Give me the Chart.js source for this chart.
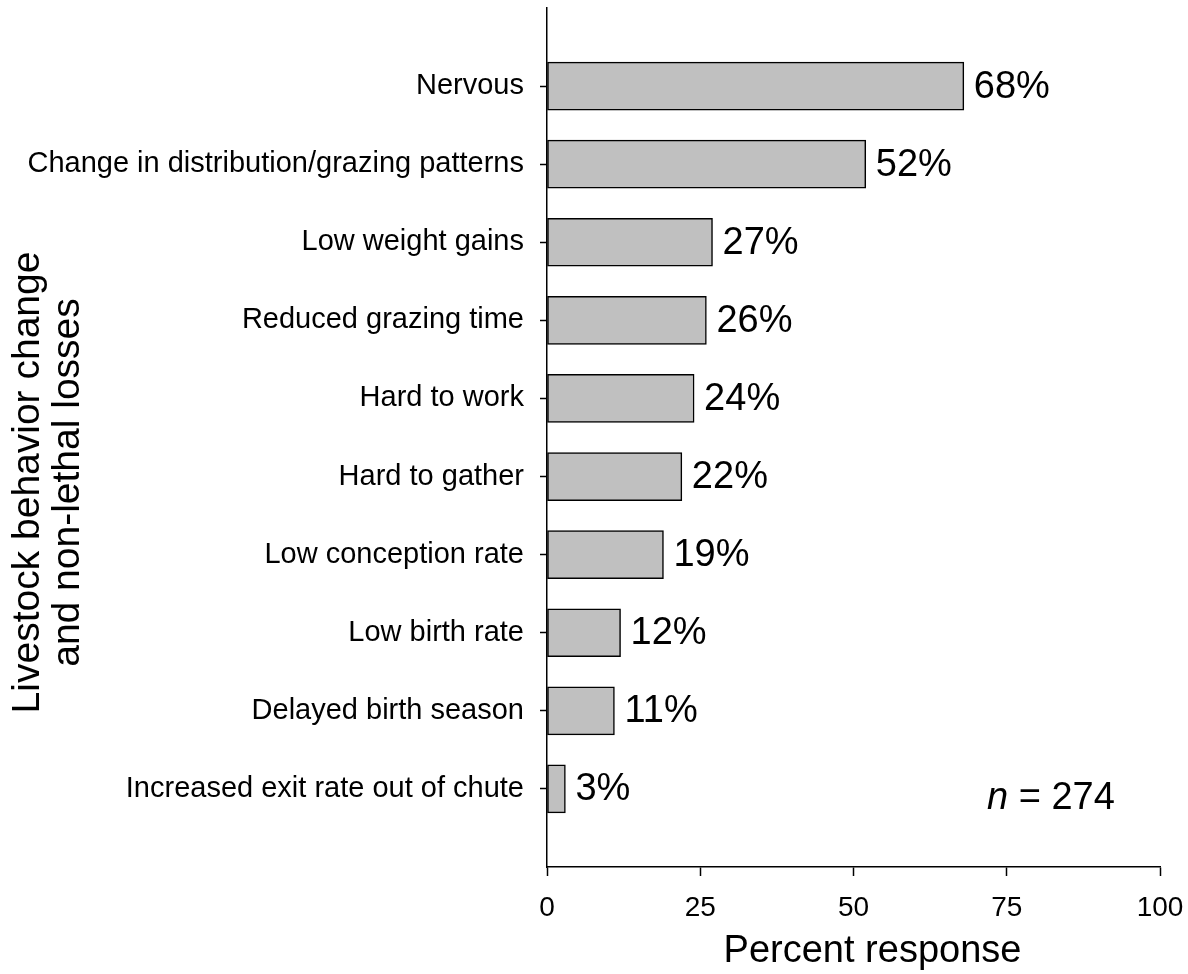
<!DOCTYPE html>
<html>
<head>
<meta charset="utf-8">
<script src="https://cdn.jsdelivr.net/npm/chart.js@4/dist/chart.umd.min.js"></script>
<style>
  html, body { margin: 0; padding: 0; background: #fff; }
  #grafico { display: block; }
</style>
</head>
<body>
<canvas id="grafico" width="1188" height="974"></canvas>
<script>
// ============================
// DATOS
// ============================
const categorias = [
  "Nervous",
  "Change in distribution/grazing patterns",
  "Low weight gains",
  "Reduced grazing time",
  "Hard to work",
  "Hard to gather",
  "Low conception rate",
  "Low birth rate",
  "Delayed birth season",
  "Increased exit rate out of chute"
];
const porcentajes = [68, 52, 27, 26, 24, 22, 19, 12, 11, 3];
const ticksX = [0, 25, 50, 75, 100];
const tituloY = ["Livestock behavior change", "and non-lethal losses"];
const tituloX = "Percent response";
const tamanoMuestra = 274;

const FUENTE = "'Liberation Sans', Arial, sans-serif";

// un hueco vacio arriba y abajo, como en la figura original
const etiquetas = ["", ...categorias, ""];
const valores = [null, ...porcentajes, null];

// ============================
// PLUGIN: etiquetas de valor, n y titulos de ejes
// ============================
const etiquetasValor = {
  id: "etiquetasValor",
  afterDatasetsDraw(chart) {
    const ctx = chart.ctx;
    const meta = chart.getDatasetMeta(0);
    const area = chart.chartArea;
    ctx.save();
    ctx.fillStyle = "#000";
    ctx.font = "38px " + FUENTE;
    ctx.textAlign = "left";
    ctx.textBaseline = "middle";
    meta.data.forEach((bar, i) => {
      const v = valores[i];
      if (v === null) return;
      ctx.fillText(v + "%", bar.x + 10, bar.y + 1);
    });

    // n = 274
    const yUlt = chart.scales.y.getPixelForValue(categorias.length);
    let x = area.right - 173;
    const y = yUlt + 10;
    ctx.font = "italic 38px " + FUENTE;
    ctx.fillText("n", x, y);
    x += ctx.measureText("n").width;
    ctx.font = "38px " + FUENTE;
    ctx.fillText(" = " + tamanoMuestra, x, y);

    // titulo del eje X (un poco a la derecha del centro, como en el original)
    ctx.textAlign = "center";
    ctx.fillText(tituloX, (area.left + area.right) / 2 + 19, area.bottom + 85);

    // titulo del eje Y (algo desplazado hacia abajo)
    ctx.font = "39px " + FUENTE;
    ctx.translate(0, (area.top + area.bottom) / 2 + 45);
    ctx.rotate(-Math.PI / 2);
    tituloY.forEach((linea, i) => {
      ctx.fillText(linea, 0, 28 + i * 40);
    });
    ctx.restore();
  }
};

// ============================
// GRAFICO
// ============================
const chart = new Chart(document.getElementById("grafico"), {
  type: "bar",
  data: {
    labels: etiquetas,
    datasets: [{
      data: valores,
      backgroundColor: "#c0c0c0",
      borderColor: "#000",
      borderWidth: 1.5,
      borderSkipped: false,
      barThickness: 48
    }]
  },
  options: {
    indexAxis: "y",
    responsive: false,
    animation: false,
    layout: { padding: { top: 8, right: 28, left: 0, bottom: 0 } },
    plugins: {
      legend: { display: false },
      tooltip: { enabled: false }
    },
    scales: {
      x: {
        type: "linear",
        min: 0,
        max: 100,
        afterBuildTicks(scale) {
          scale.ticks = ticksX.map(v => ({ value: v }));
        },
        afterFit(scale) {
          scale.height = 107;
          scale.paddingLeft = 0;
          scale.paddingRight = 0;
        },
        ticks: {
          color: "#000",
          font: { family: FUENTE, size: 28 },
          padding: 15,
          maxRotation: 0
        },
        grid: {
          drawOnChartArea: false,
          drawTicks: true,
          tickLength: 9,
          tickWidth: 1.5,
          color: "#000"
        },
        border: { display: true, color: "#000", width: 1.5 },
        title: { display: false }
      },
      y: {
        type: "category",
        offset: false,
        afterFit(scale) {
          scale.width = 547;
          scale.paddingTop = 0;
          scale.paddingBottom = 0;
        },
        ticks: {
          color: "#000",
          font: { family: FUENTE, size: 29 },
          padding: 16,
          autoSkip: false
        },
        grid: {
          offset: false,
          drawOnChartArea: false,
          drawTicks: true,
          tickLength: 7,
          tickWidth: 1.5,
          color: (c) => (c.index === 0 || c.index === etiquetas.length - 1) ? "rgba(0,0,0,0)" : "#000"
        },
        border: { display: true, color: "#000", width: 1.5 },
        title: { display: false }
      }
    }
  },
  plugins: [etiquetasValor]
});
</script>
</body>
</html>
